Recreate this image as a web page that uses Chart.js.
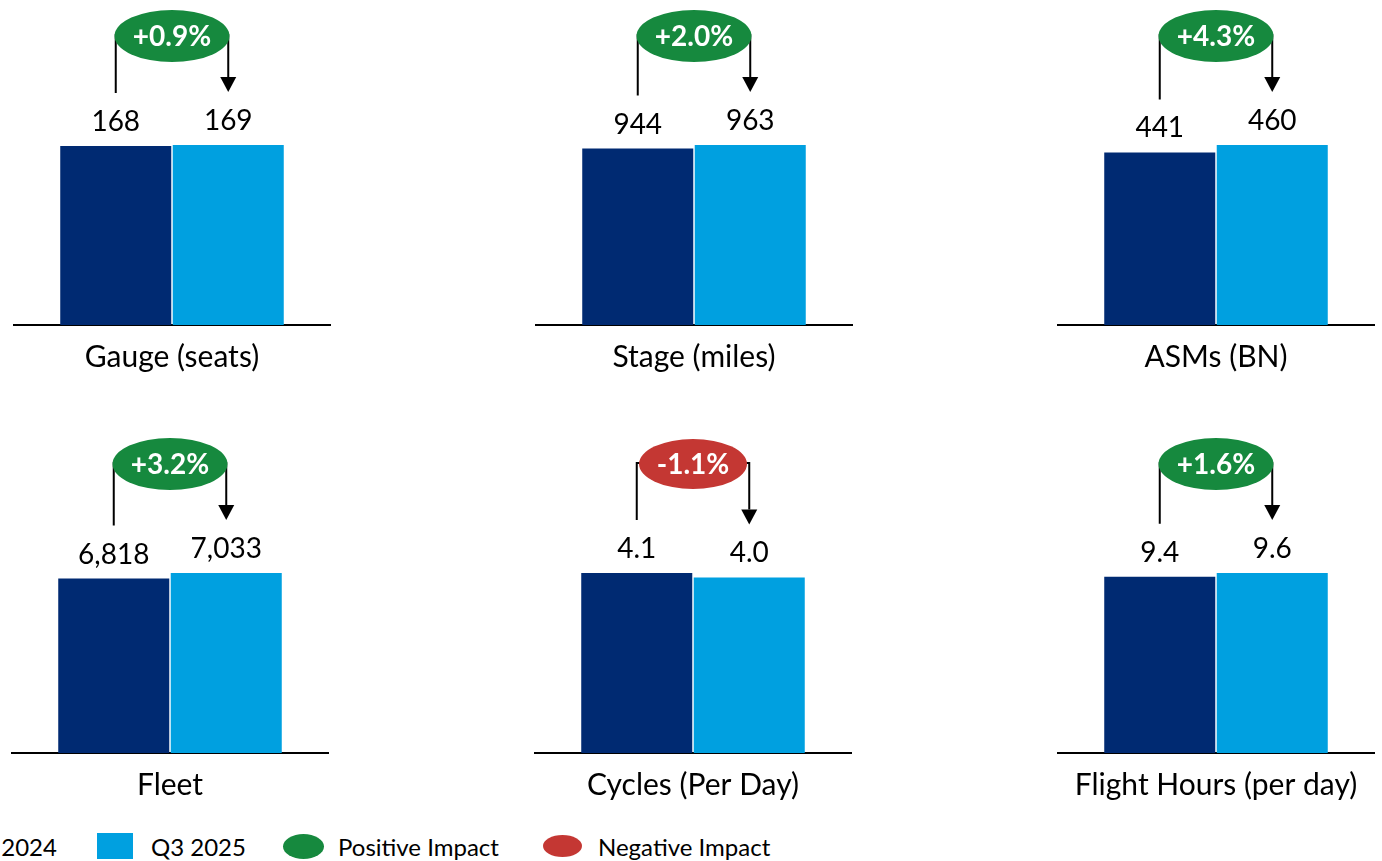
<!DOCTYPE html>
<html>
<head>
<meta charset="utf-8">
<title>Operating metrics Q3 2025 vs Q3 2024</title>
<script src="https://cdn.jsdelivr.net/npm/chart.js@4/dist/chart.umd.min.js"></script>
<style>
  html, body { margin: 0; padding: 0; background: #fff; overflow: hidden; }
  #page { position: relative; width: 1382px; height: 861px; overflow: hidden; font-family: Lato, sans-serif; }
  .panel { position: absolute; }
  .legend-item { position: absolute; top: 0; display: flex; align-items: center; height: 30px; white-space: nowrap; }
  .legend-text { font-size: 24px; color: #000; }
</style>
</head>
<body>
<div id="page"></div>
<script>
// Metric names, one per panel
const metricNames = ['Gauge (seats)', 'Stage (miles)', 'ASMs (BN)', 'Fleet', 'Cycles (Per Day)', 'Flight Hours (per day)'];
// Series
const seriesNames = ['Q3 2024', 'Q3 2025'];
const valuesQ3_2024 = [168, 944, 441, 6818, 4.1, 9.4];
const valuesQ3_2025 = [169, 963, 460, 7033, 4.0, 9.6];
// Decimal places shown in each panel's value labels
const valueDecimals = [0, 0, 0, 0, 1, 1];
// Year-over-year change shown in each bubble (%)
const changePct = [0.9, 2.0, 4.3, 3.2, -1.1, 1.6];
// Bubble legend entries
const impactNames = ['Positive Impact', 'Negative Impact'];

const COLORS = {
  dark: '#002A72',
  light: '#00A0E0',
  positive: '#16893E',
  negative: '#C43733'
};

// Panel placement: horizontal centre and top of each panel
const panelCentersX = [171.5, 693.5, 1215.5, 169.5, 692.5, 1215.5];
const panelTops = [0, 0, 0, 428, 428, 428];
const PANEL_W = 318;
const AREA_H = 325;      // plot area height inside each panel
const TALLEST_BAR = 180; // pixel height of the taller bar in each panel
const AXIS_FONT = 30;
const AXIS_PAD = 14;
const PANEL_H = AREA_H + AXIS_FONT * 1.2 + AXIS_PAD * 2;

function formatValue(v, d) {
  return new Intl.NumberFormat('en-US', { minimumFractionDigits: d, maximumFractionDigits: d }).format(v);
}
function formatChange(p) {
  return (p >= 0 ? '+' : '-') + Math.abs(p).toFixed(1) + '%';
}

// Draws the value labels, the bracket arrow and the change bubble
const changeAnnotation = {
  id: 'changeAnnotation',
  afterDatasetsDraw(chart, args, opts) {
    const i = opts.index;
    const ctx = chart.ctx;
    const b0 = chart.getDatasetMeta(0).data[0];
    const b1 = chart.getDatasetMeta(1).data[0];
    ctx.save();

    ctx.fillStyle = '#000';
    ctx.textAlign = 'center';
    ctx.textBaseline = 'middle';
    ctx.font = '28px Lato';
    ctx.fillText(formatValue(valuesQ3_2024[i], valueDecimals[i]), b0.x, b0.y - 24);
    ctx.fillText(formatValue(valuesQ3_2025[i], valueDecimals[i]), b1.x, b1.y - 24);

    const topY = 35;
    const gap = 53;
    const head = 15;
    ctx.strokeStyle = '#000';
    ctx.lineWidth = 2;
    ctx.beginPath();
    ctx.moveTo(b0.x, b0.y - gap);
    ctx.lineTo(b0.x, topY);
    ctx.lineTo(b1.x, topY);
    ctx.lineTo(b1.x, b1.y - gap - head);
    ctx.stroke();
    ctx.beginPath();
    ctx.moveTo(b1.x - 8, b1.y - gap - head);
    ctx.lineTo(b1.x + 8, b1.y - gap - head);
    ctx.lineTo(b1.x, b1.y - gap);
    ctx.closePath();
    ctx.fill();

    const p = changePct[i];
    const cx = (b0.x + b1.x) / 2;
    const rx = p >= 0 ? 57.5 : 54;
    const ry = p >= 0 ? 26 : 25;
    ctx.fillStyle = p >= 0 ? COLORS.positive : COLORS.negative;
    ctx.beginPath();
    ctx.ellipse(cx, topY + 1, rx, ry, 0, 0, Math.PI * 2);
    ctx.fill();
    ctx.fillStyle = '#fff';
    ctx.font = 'bold 28px Lato';
    ctx.fillText(formatChange(p), cx, topY + 2);

    ctx.restore();
  }
};

const page = document.getElementById('page');

metricNames.forEach((name, i) => {
  const holder = document.createElement('div');
  holder.className = 'panel';
  holder.style.left = (panelCentersX[i] - PANEL_W / 2) + 'px';
  holder.style.top = panelTops[i] + 'px';
  const canvas = document.createElement('canvas');
  canvas.width = PANEL_W;
  canvas.height = PANEL_H;
  canvas.style.width = PANEL_W + 'px';
  canvas.style.height = PANEL_H + 'px';
  holder.appendChild(canvas);
  page.appendChild(holder);

  const tallest = Math.max(valuesQ3_2024[i], valuesQ3_2025[i]);

  new Chart(canvas, {
    type: 'bar',
    data: {
      labels: [name],
      datasets: [
        { label: seriesNames[0], data: [valuesQ3_2024[i]], backgroundColor: COLORS.dark, borderWidth: 0 },
        { label: seriesNames[1], data: [valuesQ3_2025[i]], backgroundColor: COLORS.light, borderWidth: 0 }
      ]
    },
    options: {
      responsive: false,
      animation: false,
      devicePixelRatio: 1,
      layout: { padding: 0 },
      datasets: { bar: { categoryPercentage: 0.7075, barPercentage: 0.987 } },
      plugins: {
        legend: { display: false },
        tooltip: { enabled: false },
        changeAnnotation: { index: i }
      },
      scales: {
        x: {
          grid: { display: false, drawTicks: false },
          border: { display: true, color: '#000', width: 2 },
          ticks: { color: '#000', padding: AXIS_PAD, font: { family: 'Lato', size: AXIS_FONT } }
        },
        y: {
          display: false,
          min: 0,
          max: tallest * AREA_H / TALLEST_BAR
        }
      }
    },
    plugins: [changeAnnotation]
  });
});

// Legend row
const legendItems = [
  { text: seriesNames[0], marker: 'square', color: COLORS.dark, left: -92, w: 36, h: 26, gap: 18 },
  { text: seriesNames[1], marker: 'square', color: COLORS.light, left: 97, w: 36, h: 26, gap: 18 },
  { text: impactNames[0], marker: 'ellipse', color: COLORS.positive, left: 283, w: 41, h: 25, gap: 14 },
  { text: impactNames[1], marker: 'ellipse', color: COLORS.negative, left: 543, w: 39, h: 22, gap: 16 }
];
legendItems.forEach(item => {
  const el = document.createElement('div');
  el.className = 'legend-item';
  el.style.left = item.left + 'px';
  el.style.top = '831px';
  const mk = document.createElement('span');
  mk.style.display = 'inline-block';
  mk.style.background = item.color;
  mk.style.width = item.w + 'px';
  mk.style.height = item.h + 'px';
  mk.style.marginRight = item.gap + 'px';
  if (item.marker === 'ellipse') mk.style.borderRadius = '50%';
  const tx = document.createElement('span');
  tx.className = 'legend-text';
  tx.textContent = item.text;
  el.appendChild(mk);
  el.appendChild(tx);
  page.appendChild(el);
});
</script>
</body>
</html>
